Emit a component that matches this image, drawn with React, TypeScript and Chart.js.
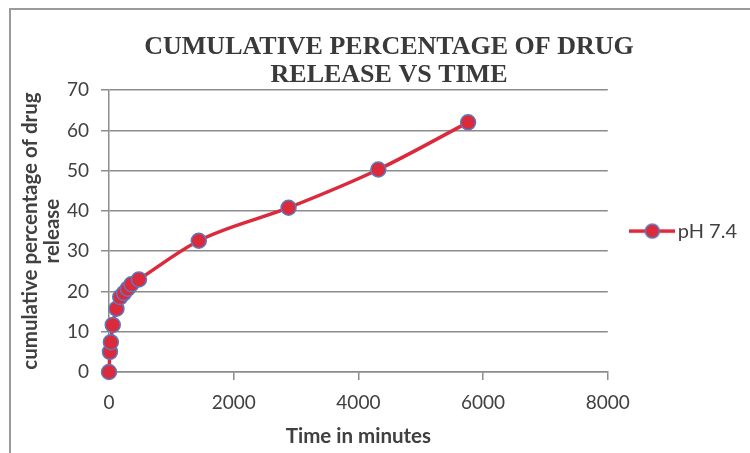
import React, { useEffect, useRef } from "react";
import { Chart, registerables } from "chart.js";

Chart.register(...registerables);

// Dissolution profile: sampling time (minutes) and cumulative % drug released
const timeMinutes = [0, 15, 30, 60, 120, 180, 240, 300, 360, 480, 1440, 2880, 4320, 5760];
const releasePH74 = [0, 5.0, 7.4, 11.7, 15.7, 18.6, 19.6, 20.7, 21.8, 23.0, 32.6, 40.8, 50.3, 62.0];

const seriesLabel = "pH 7.4";
const chartTitle = ["CUMULATIVE PERCENTAGE OF DRUG", "RELEASE VS TIME"];
const xAxisTitle = "Time in minutes";
const yAxisTitle = ["cumulative percentage of drug", "release"];
const xTickValues = [0, 2000, 4000, 6000, 8000];
const yTickValues = [0, 10, 20, 30, 40, 50, 60, 70];

const LINE_RED = "#DA2A3C";
const MARKER_EDGE = "#5B7BBE";
const GRID_GREY = "#8C8C8C";
const TEXT_GREY = "#404040";

function makeLegendMarker(): HTMLCanvasElement {
  const c = document.createElement("canvas");
  c.width = 46;
  c.height = 18;
  const ctx = c.getContext("2d")!;
  ctx.strokeStyle = LINE_RED;
  ctx.lineWidth = 3.5;
  ctx.beginPath();
  ctx.moveTo(0, 9);
  ctx.lineTo(46, 9);
  ctx.stroke();
  ctx.beginPath();
  ctx.arc(23, 9, 7, 0, Math.PI * 2);
  ctx.fillStyle = LINE_RED;
  ctx.fill();
  ctx.lineWidth = 1.5;
  ctx.strokeStyle = MARKER_EDGE;
  ctx.stroke();
  return c;
}

export default function App() {
  const canvasRef = useRef<HTMLCanvasElement | null>(null);

  useEffect(() => {
    if (!canvasRef.current) return;
    const marker = makeLegendMarker();
    const chart = new Chart(canvasRef.current, {
      type: "line",
      data: {
        datasets: [
          {
            label: seriesLabel,
            data: timeMinutes.map((t, i) => ({ x: t, y: releasePH74[i] })),
            borderColor: LINE_RED,
            backgroundColor: LINE_RED,
            borderWidth: 3.5,
            cubicInterpolationMode: "monotone",
            pointRadius: 7.5,
            pointBorderWidth: 1.5,
            pointBackgroundColor: LINE_RED,
            pointBorderColor: MARKER_EDGE,
            clip: false,
          },
        ],
      },
      options: {
        animation: false,
        responsive: false,
        maintainAspectRatio: false,
        layout: { padding: { left: 31, right: 29, top: 0, bottom: 0 } },
        plugins: {
          title: {
            display: true,
            text: chartTitle,
            color: "#3A3A3A",
            font: { family: "'Liberation Serif', 'Times New Roman', serif", size: 26, weight: "bold", lineHeight: 1.08 },
            padding: { top: 33, bottom: 1 },
          },
          legend: {
            position: "right",
            fullSize: false,
            labels: {
              usePointStyle: true,
              pointStyleWidth: 31,
              padding: 29,
              color: TEXT_GREY,
              font: { family: "Lato", size: 20 },
              generateLabels: (ch: any) =>
                Chart.defaults.plugins.legend.labels
                  .generateLabels(ch)
                  .map((l: any) => ({ ...l, pointStyle: marker })),
            },
          },
          tooltip: { enabled: false },
        },
        scales: {
          x: {
            type: "linear",
            min: xTickValues[0],
            max: xTickValues[xTickValues.length - 1],
            afterFit: (s: any) => {
              s.height = 81;
            },
            afterBuildTicks: (s: any) => {
              s.ticks = xTickValues.map((v) => ({ value: v }));
            },
            ticks: {
              color: TEXT_GREY,
              font: { family: "Lato", size: 19 },
              padding: 11,
              callback: (v: any) => String(v),
            },
            grid: { drawOnChartArea: false, drawTicks: true, tickLength: 8, color: GRID_GREY, lineWidth: 1.5 },
            border: { display: true, color: GRID_GREY, width: 1.5 },
            title: {
              display: true,
              text: xAxisTitle,
              color: TEXT_GREY,
              font: { family: "Lato", size: 20.5, weight: "bold" },
              padding: { top: 0, bottom: 4 },
            },
          },
          y: {
            type: "linear",
            min: yTickValues[0],
            max: yTickValues[yTickValues.length - 1],
            afterFit: (s: any) => {
              s.width = 78;
            },
            afterBuildTicks: (s: any) => {
              s.ticks = yTickValues.map((v) => ({ value: v }));
            },
            ticks: { color: TEXT_GREY, font: { family: "Lato", size: 19 }, padding: 12 },
            grid: { drawTicks: true, tickLength: 8, color: GRID_GREY, lineWidth: 1.5 },
            border: { display: true, color: GRID_GREY, width: 1.5 },
            title: {
              display: true,
              text: yAxisTitle,
              color: TEXT_GREY,
              font: { family: "Lato", size: 20.5, weight: "bold", lineHeight: 1.05 },
              padding: { top: -11, bottom: 0 },
            },
          },
        },
      },
    });
    return () => chart.destroy();
  }, []);

  return (
    <div style={{ position: "fixed", left: 0, top: 0, width: 750, height: 453, overflow: "hidden", background: "#fff" }}>
      <div
        style={{
          position: "absolute",
          left: 9,
          top: 8,
          width: 800,
          height: 500,
          border: "2px solid #9A9A9A",
          boxSizing: "border-box",
        }}
      />
      <canvas ref={canvasRef} width={776} height={453} style={{ position: "absolute", left: 0, top: 0 }} />
    </div>
  );
}
